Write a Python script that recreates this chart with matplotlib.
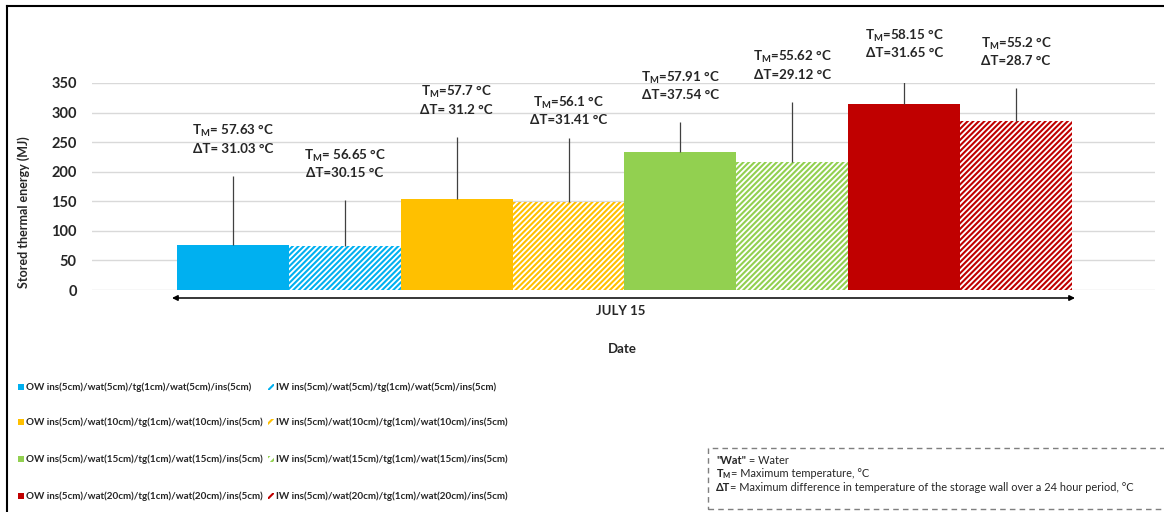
import numpy as np
import matplotlib
matplotlib.use("Agg")
import matplotlib.pyplot as plt
from matplotlib.patches import Rectangle
from matplotlib.lines import Line2D

plt.rcParams["font.family"] = ["Lato", "DejaVu Sans"]
plt.rcParams["mathtext.fontset"] = "custom"
plt.rcParams["mathtext.rm"] = "Lato"
plt.rcParams["mathtext.bf"] = "Lato:bold"
plt.rcParams["mathtext.default"] = "regular"
plt.rcParams["hatch.linewidth"] = 1.5

# ---- data -------------------------------------------------------------
series_labels = [
    "OW ins(5cm)/wat(5cm)/tg(1cm)/wat(5cm)/ins(5cm)",
    "IW ins(5cm)/wat(5cm)/tg(1cm)/wat(5cm)/ins(5cm)",
    "OW ins(5cm)/wat(10cm)/tg(1cm)/wat(10cm)/ins(5cm)",
    "IW ins(5cm)/wat(10cm)/tg(1cm)/wat(10cm)/ins(5cm)",
    "OW ins(5cm)/wat(15cm)/tg(1cm)/wat(15cm)/ins(5cm)",
    "IW ins(5cm)/wat(15cm)/tg(1cm)/wat(15cm)/ins(5cm)",
    "OW ins(5cm)/wat(20cm)/tg(1cm)/wat(20cm)/ins(5cm)",
    "IW ins(5cm)/wat(20cm)/tg(1cm)/wat(20cm)/ins(5cm)",
]
stored_energy = [76, 74, 154, 148, 234, 216, 314, 285]        # MJ
callout_top = [193, 152, 259, 257, 284, 318, 355, 341]        # MJ
t_max = ["57.63", "56.65", "57.7", "56.1", "57.91", "55.62", "58.15", "55.2"]
t_max_gap = [" ", " ", "", "", "", "", "", ""]
delta_t = ["31.03", "30.15", "31.2", "31.41", "37.54", "29.12", "31.65", "28.7"]
delta_t_gap = [" ", "", " ", "", "", "", "", ""]
bar_colors = ["#00B0F0", "#00B0F0", "#FFC000", "#FFC000",
              "#92D050", "#92D050", "#C00000", "#C00000"]
is_inner_wall = [False, True, False, True, False, True, False, True]
y_ticks = [0, 50, 100, 150, 200, 250, 300, 350]
x_category = "JULY 15"

# vertical offset (points) of each callout text above its leader line
label_lift = [26.5, 26.5, 26.5, 20, 26.5, 26.5, 26.5, 26.5]

# ---- figure -----------------------------------------------------------
W, H = 1164, 512
fig = plt.figure(figsize=(W / 100, H / 100), dpi=100)


def fx(px):
    return px / W


def fy(py):
    return 1 - py / H


ax = fig.add_axes([fx(92), fy(290), fx(1155) - fx(92), fy(83) - fy(290)])

x = np.arange(len(stored_energy))
width = 1.0
for xi, val, col, inner in zip(x, stored_energy, bar_colors, is_inner_wall):
    if inner:
        ax.bar(xi, val, width, facecolor="white", edgecolor=col,
               linewidth=0, hatch="//////", zorder=2)
    else:
        ax.bar(xi, val, width, color=col, linewidth=0, zorder=2)

vals = np.array(stored_energy)
tops = np.array(callout_top)
ax.errorbar(x, vals, yerr=[np.zeros_like(vals), tops - vals], fmt="none",
            ecolor="#404040", elinewidth=0.9, capsize=0, zorder=3)

for xi, top, tm, tg, dt, dg, lift in zip(x, tops, t_max, t_max_gap,
                                         delta_t, delta_t_gap, label_lift):
    txt = r"T$_{M}$=" + tg + tm + " °C\nΔT=" + dg + dt + " °C"
    ax.annotate(txt, xy=(xi, top), xytext=(0, lift), textcoords="offset points",
                ha="center", va="center", fontsize=9.6, fontweight="bold",
                color="#262626", annotation_clip=False, linespacing=1.35)

ax.set_ylim(0, 350)
ax.set_xlim(-0.5 - 85 / 111.9, x[-1] + 0.5 + 83 / 111.9)
ax.set_yticks(y_ticks)
ax.set_yticklabels([str(t) for t in y_ticks], fontweight="bold", fontsize=10.5,
                   color="#262626")
ax.set_xticks([])
ax.tick_params(axis="y", length=0, pad=11)
ax.yaxis.grid(True, color="#d9d9d9", linewidth=1, zorder=0)
ax.set_axisbelow(True)
for s in ax.spines.values():
    s.set_visible(False)

ax.set_ylabel("Stored thermal energy (MJ)", fontweight="bold", fontsize=9,
              color="#262626")
ax.yaxis.set_label_coords((30 - 92) / 1063, (290 - 212) / 207)

# category arrow and axis titles
x_left = x[0] - width / 2 - 0.045
x_right = x[-1] + width / 2 + 0.027
ytr = ax.get_xaxis_transform()
ax.annotate("", xy=(x_left, -8 / 207), xytext=(x_right, -8 / 207),
            xycoords=ytr, textcoords=ytr, annotation_clip=False,
            arrowprops=dict(arrowstyle="<|-|>", color="black", lw=1.1,
                            mutation_scale=8, shrinkA=0, shrinkB=0))
fig.text(fx(621), fy(311), x_category, ha="center", va="center",
         fontweight="bold", fontsize=9.5, color="#262626")
fig.text(fx(622), fy(349), "Date", ha="center", va="center",
         fontweight="bold", fontsize=9.5, color="#262626")

# legend: OW series in the left column, IW series in the right column
row_y = [387, 422, 459, 496]
col_x = [18, 268]
for i, (lab, col, inner) in enumerate(zip(series_labels, bar_colors, is_inner_wall)):
    cx = col_x[1 if inner else 0]
    ry = row_y[i // 2]
    if inner:
        p = Rectangle((fx(cx), fy(ry + 3)), fx(6), 6 / H, transform=fig.transFigure,
                      facecolor="white", edgecolor=col, linewidth=0, hatch="////")
    else:
        p = Rectangle((fx(cx), fy(ry + 3)), fx(6), 6 / H, transform=fig.transFigure,
                      facecolor=col, linewidth=0)
    fig.add_artist(p)
    fig.text(fx(cx + 8), fy(ry), lab, ha="left", va="center",
             fontsize=7.1, fontweight="bold", color="#262626")

# definitions box
fig.add_artist(Rectangle((fx(708), fy(509)), fx(480), fy(448) - fy(509),
                         transform=fig.transFigure, facecolor="none",
                         edgecolor="#7f7f7f", linewidth=1, linestyle=(0, (4, 3))))
notes = [
    ('"Wat"', " = Water"),
    (r"T$_{M}$", "= Maximum temperature, °C"),
    ("ΔT", "= Maximum difference in temperature of the storage wall over a 24 hour period, °C"),
]
renderer = fig.canvas.get_renderer()
for ny, (head, rest) in zip([464, 477, 491], notes):
    t0 = fig.text(fx(716), fy(ny), head, ha="left", va="baseline", fontsize=7.9,
                  fontweight="bold", color="#262626")
    bb = t0.get_window_extent(renderer)
    fig.text(bb.x1 / W, fy(ny), rest, ha="left", va="baseline", fontsize=7.9,
             color="#262626")

# outer frame (top and left edges)
fig.add_artist(Line2D([fx(7), fx(7)], [0, fy(6)], transform=fig.transFigure,
                      color="black", linewidth=1.5))
fig.add_artist(Line2D([fx(7), 1], [fy(6), fy(6)], transform=fig.transFigure,
                      color="black", linewidth=1.5))

fig.savefig("out.png", dpi=100)
